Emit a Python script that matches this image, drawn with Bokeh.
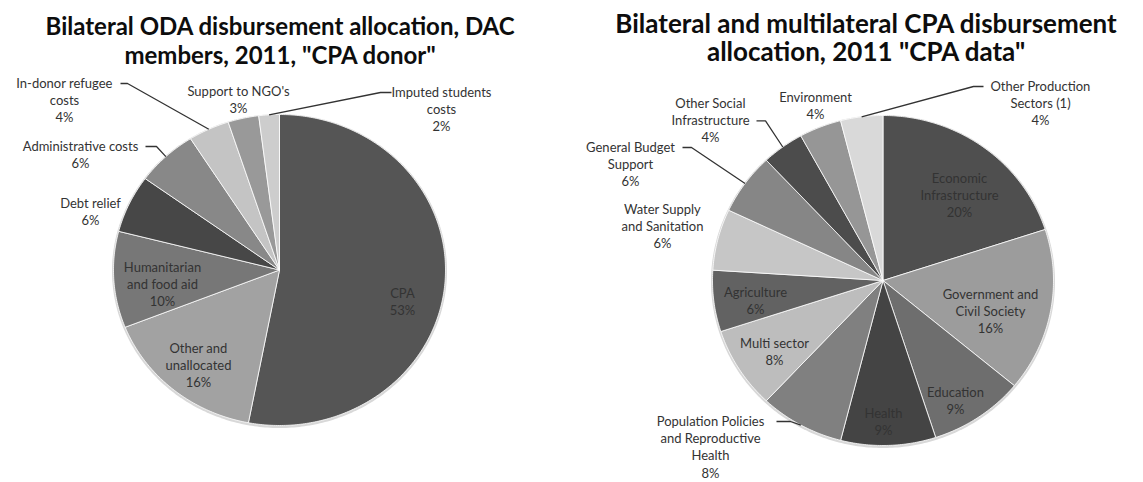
import numpy as np
from bokeh.plotting import figure
from bokeh.models import Range1d
from bokeh.core.properties import value
from bokeh.embed import file_html
from bokeh.resources import INLINE

# ---------------- data ----------------
left_title = ['Bilateral ODA disbursement allocation, DAC', 'members, 2011, "CPA donor"']
left_categories = ["CPA", "Other and unallocated", "Humanitarian and food aid", "Debt relief",
                   "Administrative costs", "In-donor refugee costs", "Support to NGO's",
                   "Imputed students costs"]
left_values = [53, 16, 10, 6, 6, 4, 3, 2]
left_label_lines = [["CPA"], ["Other and", "unallocated"], ["Humanitarian", "and food aid"],
                    ["Debt relief"], ["Administrative costs"], ["In-donor refugee", "costs"],
                    ["Support to NGO's"], ["Imputed students", "costs"]]
left_colors = ["#555555", "#a2a2a2", "#777777", "#474747", "#888888", "#c4c4c4", "#999999", "#cdcdcd"]

right_title = ['Bilateral and multilateral CPA disbursement', 'allocation, 2011 "CPA data"']
right_categories = ["Economic Infrastructure", "Government and Civil Society", "Education", "Health",
                    "Population Policies and Reproductive Health", "Multi sector", "Agriculture",
                    "Water Supply and Sanitation", "General Budget Support",
                    "Other Social Infrastructure", "Environment", "Other Production Sectors (1)"]
right_values = [20, 16, 9, 9, 8, 8, 6, 6, 6, 4, 4, 4]
right_label_lines = [["Economic", "Infrastructure"], ["Government and", "Civil Society"], ["Education"],
                     ["Health"], ["Population Policies", "and Reproductive", "Health"], ["Multi sector"],
                     ["Agriculture"], ["Water Supply", "and Sanitation"], ["General Budget", "Support"],
                     ["Other Social", "Infrastructure"], ["Environment"], ["Other Production", "Sectors (1)"]]
right_colors = ["#4f4f4f", "#9c9c9c", "#6e6e6e", "#444444", "#808080", "#bdbdbd", "#626262",
                "#c6c6c6", "#868686", "#4c4c4c", "#969696", "#d9d9d9"]

# ---------------- layout (positions only) ----------------
W, H = 1143, 482
LINE = 17.4
left_geom = dict(cx=279, cy=269.5, rx=166, ry=155.5)
right_geom = dict(cx=882.5, cy=280, rx=170.5, ry=165)
left_title_pos = (280, 25, "24px")
right_title_pos = (866, 22, "26px")
TITLE_GAP = 28.5
# first-line center of each label
left_label_pos = [(402, 292), (198, 347), (162, 266), (90, 202), (80, 145), (64, 82), (238, 90), (441, 91)]
right_label_pos = [(959, 177), (990, 293), (955, 391), (883, 412), (710, 420), (774, 342), (755, 291),
                   (662, 208), (630, 146), (710, 102), (815, 96), (1040, 85)]
# leader lines: slice index -> (start x, elbow x, label line index)
left_leaders = {4: (145, 156, 0), 5: (120, 127, 0), 7: (391, 380, 0)}
right_leaders = {4: (776, 790, 0), 8: (682, 691, 0), 9: (756, 765, 1), 11: (983, 973, 0)}

p = figure(width=W, height=H, x_range=Range1d(0, W), y_range=Range1d(H, 0),
           output_backend="svg", toolbar_location=None, min_border=0)
p.axis.visible = False
p.grid.visible = False
p.outline_line_color = None
p.background_fill_color = "white"
p.border_fill_color = "white"

FONT = "Lato"
label_x, label_y, label_t = [], [], []
lead_xs, lead_ys = [], []


def draw_pie(values, colors, geom, lines, pos, leaders):
    cx, cy, rx, ry = geom["cx"], geom["cy"], geom["rx"], geom["ry"]
    total = float(sum(values))
    cum = np.concatenate([[0.0], np.cumsum(values)]) / total * 2 * np.pi
    xs, ys = [], []
    for i in range(len(values)):
        a0, a1 = cum[i], cum[i + 1]
        t = np.linspace(a0, a1, max(8, int((a1 - a0) * 80)))
        xs.append(np.concatenate([[cx], cx + rx * np.sin(t)]).tolist())
        ys.append(np.concatenate([[cy], cy - ry * np.cos(t)]).tolist())
    # faint outer shadow ring
    t = np.linspace(0, 2 * np.pi, 400)
    p.patch((cx + (rx + 1.5) * np.sin(t)).tolist(), (cy + 1 - (ry + 1.5) * np.cos(t)).tolist(),
            fill_color="#d8d8d8", line_color=None)
    p.patches(xs, ys, fill_color=colors, line_color="white", line_width=0.8)
    for i, v in enumerate(values):
        text_lines = lines[i] + [f"{v}%"]
        x0, y0 = pos[i]
        for k, s in enumerate(text_lines):
            label_x.append(x0)
            label_y.append(y0 + k * LINE)
            label_t.append(s)
        if i in leaders:
            sx, ex, li = leaders[i]
            mid = (cum[i] + cum[i + 1]) / 2
            px = cx + rx * np.sin(mid)
            py = cy - ry * np.cos(mid)
            ly = y0 + li * LINE + 1
            lead_xs.append([sx, ex, px])
            lead_ys.append([ly, ly, py])


draw_pie(left_values, left_colors, left_geom, left_label_lines, left_label_pos, left_leaders)
draw_pie(right_values, right_colors, right_geom, right_label_lines, right_label_pos, right_leaders)

p.multi_line(lead_xs, lead_ys, line_color="#333333", line_width=1.3)

p.text(x=label_x, y=label_y, text=label_t, text_font=value(FONT), text_font_size="13px",
       text_align="center", text_baseline="middle", text_color="#333333")

for (x0, y0, fs), lines in ((left_title_pos, left_title), (right_title_pos, right_title)):
    p.text(x=[x0] * len(lines), y=[y0 + k * TITLE_GAP for k in range(len(lines))], text=lines,
           text_font=value(FONT), text_font_size=fs, text_font_style="bold",
           text_align="center", text_baseline="middle", text_color="#0d0d0d")

open("out.html", "w").write(file_html(p, INLINE))
